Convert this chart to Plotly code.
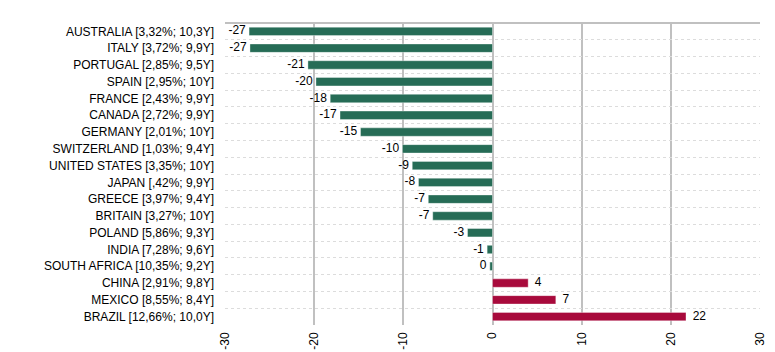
import plotly.graph_objects as go

categories = [
    "AUSTRALIA [3,32%; 10,3Y]", "ITALY [3,72%; 9,9Y]", "PORTUGAL [2,85%; 9,5Y]",
    "SPAIN [2,95%; 10Y]", "FRANCE [2,43%; 9,9Y]", "CANADA [2,72%; 9,9Y]",
    "GERMANY [2,01%; 10Y]", "SWITZERLAND [1,03%; 9,4Y]", "UNITED STATES [3,35%; 10Y]",
    "JAPAN [,42%; 9,9Y]", "GREECE [3,97%; 9,4Y]", "BRITAIN [3,27%; 10Y]",
    "POLAND [5,86%; 9,3Y]", "INDIA [7,28%; 9,6Y]", "SOUTH AFRICA [10,35%; 9,2Y]",
    "CHINA [2,91%; 9,8Y]", "MEXICO [8,55%; 8,4Y]", "BRAZIL [12,66%; 10,0Y]",
]
values = [-27.3, -27.2, -20.7, -19.8, -18.2, -17.1, -14.8, -10.1, -9.0,
          -8.3, -7.2, -6.7, -2.8, -0.6, -0.3, 4.0, 7.1, 21.7]
x_ticks = [-30, -20, -10, 0, 10, 20, 30]

GREEN = "#266C56"
RED = "#A80A3C"
colors = [GREEN if v < 0 else RED for v in values]
labels = [str(round(v)) for v in values]
label_text = [(l + " ") if v < 0 else ("  " + l) for l, v in zip(labels, values)]
label_pos = ["middle left" if v < 0 else "middle right" for v in values]

fig = go.Figure()
fig.add_trace(go.Bar(
    x=values, y=categories, orientation="h",
    marker=dict(color=colors, line=dict(color="rgba(255,255,255,0.35)", width=1)),
    width=0.5, hoverinfo="x+y",
))
fig.add_trace(go.Scatter(
    x=values, y=categories, mode="text", text=label_text,
    textposition=label_pos, cliponaxis=False, hoverinfo="skip",
    textfont=dict(family="Liberation Sans, Arial", size=12, color="#000000"),
))

fig.update_layout(
    width=775, height=352,
    margin=dict(l=225, r=15, t=23, b=27),
    paper_bgcolor="white", plot_bgcolor="white",
    showlegend=False,
    font=dict(family="Liberation Sans, Arial", size=12, color="#000000"),
    xaxis=dict(
        range=[-30, 30], tickvals=x_ticks, ticktext=[str(t) for t in x_ticks],
        tickangle=-90, showgrid=True, gridcolor="#C0C0C0", gridwidth=2,
        zeroline=True, zerolinecolor="#C0C0C0", zerolinewidth=2,
        tickfont=dict(size=12), ticks="", showline=False, fixedrange=True,
        automargin=False, ticklabelstandoff=4,
    ),
    yaxis=dict(
        range=[len(categories) - 0.5, -0.5], tickson="boundaries", showgrid=True,
        gridcolor="#DCDCDC", gridwidth=1, griddash="dot",
        ticks="", tickfont=dict(size=12), ticklabelstandoff=10,
        showline=False, automargin=False,
    ),
    shapes=[dict(type="line", xref="paper", yref="paper", x0=0, x1=1, y0=1, y1=1,
                 line=dict(color="#C0C0C0", width=2))],
)

fig.write_html("out.html")
